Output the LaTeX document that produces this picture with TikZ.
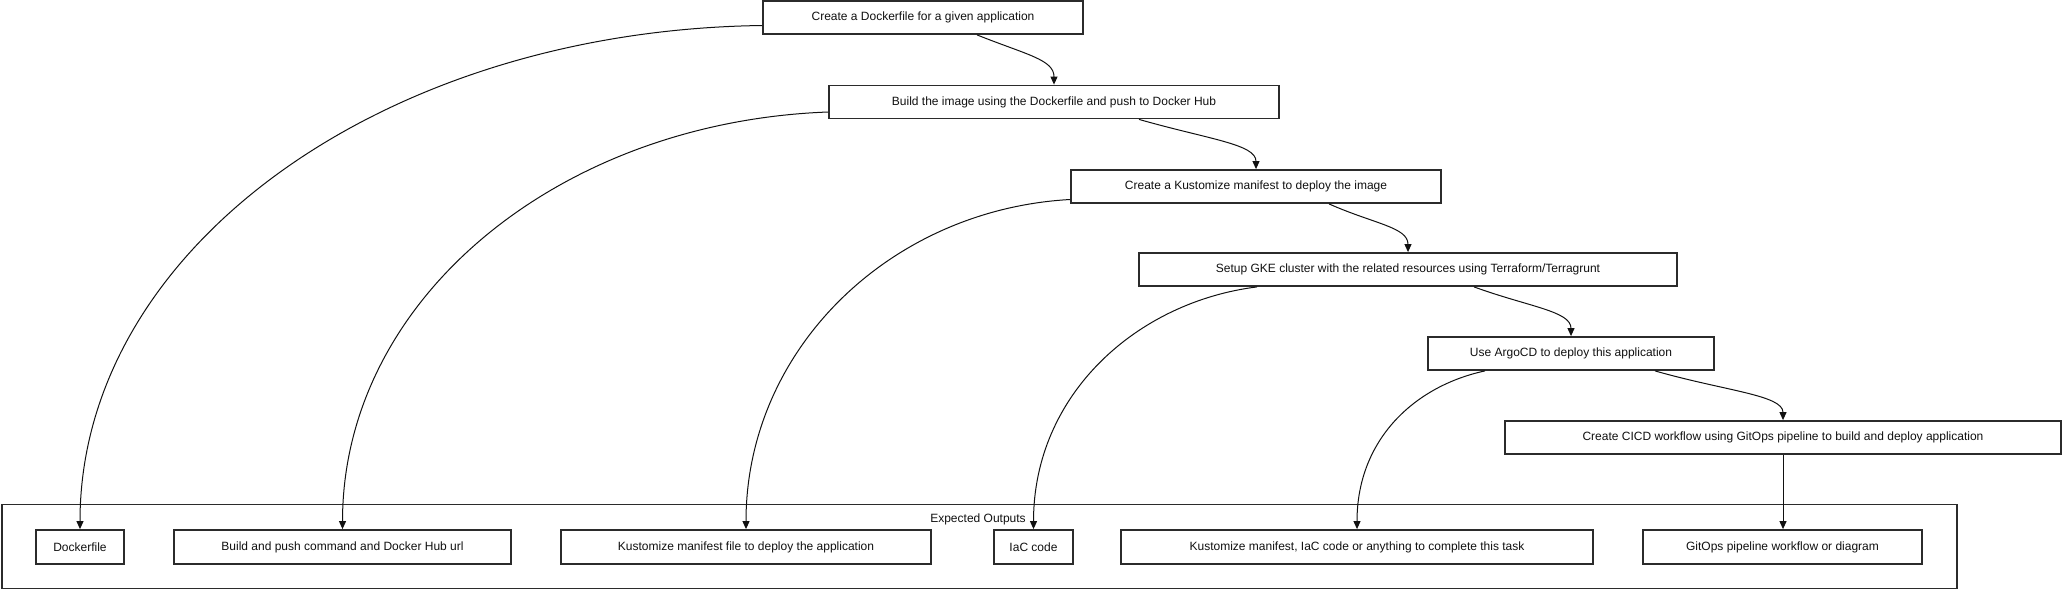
\documentclass[tikz,border=0pt]{standalone}
\usepackage{fontspec}
\setmainfont{Liberation Sans}
\usepackage{xcolor}
\usepackage{tikz}
\usetikzlibrary{arrows.meta,positioning,calc}
\definecolor{Ink}{HTML}{2B2B2B}
\definecolor{Wire}{HTML}{111111}
\tikzset{
  task/.style={
    draw=Ink, line width=1.8pt, fill=white,
    minimum height=33pt, inner sep=0pt, text=Wire,
    font=\fontsize{12}{14}\selectfont
  },
  output/.style={task,minimum height=34pt},
  group/.style={draw=Ink,line width=1.8pt,inner sep=0pt},
  arr/.style={-{Triangle[length=8pt,width=7pt]},line width=1pt,draw=Wire},
  caption/.style={font=\fontsize{12}{14}\selectfont,text=Wire}
}
\begin{document}
\begin{tikzpicture}[x=1pt,y=-1pt]
  \useasboundingbox (0,0) rectangle (2064,590);
  \node[group,minimum width=1955pt,minimum height=84pt] (outputs) at (979.5,546.5) {};
  \node[caption] (outLabel) at (978,519) {Expected Outputs};
  \node[task,minimum width=320pt] (dockerfile) at (923,17.5) {Create a Dockerfile for a given application};
  \node[task,minimum width=450pt] (build) at (1054,102) {Build the image using the Dockerfile and push to Docker Hub};
  \node[task,minimum width=370pt] (kustomize) at (1256,186.5) {Create a Kustomize manifest to deploy the image};
  \node[task,minimum width=538pt] (gke) at (1408,269.5) {Setup GKE cluster with the related resources using Terraform/Terragrunt};
  \node[task,minimum width=286pt] (argo) at (1571,353.5) {Use ArgoCD to deploy this application};
  \node[task,minimum width=556pt] (cicd) at (1783,437.5) {Create CICD workflow using GitOps pipeline to build and deploy application};
  \node[output,minimum width=88pt] (outDocker) at (80,547) {Dockerfile};
  \node[output,minimum width=337pt] (outBuild) at (342.5,547) {Build and push command and Docker Hub url};
  \node[output,minimum width=370pt] (outKust) at (746,547) {Kustomize manifest file to deploy the application};
  \node[output,minimum width=79pt] (outIac) at (1033.5,547) {IaC code};
  \node[output,minimum width=472pt] (outArgo) at (1357,547) {Kustomize manifest, IaC code or anything to complete this task};
  \node[output,minimum width=279pt] (outCicd) at (1782.5,547) {GitOps pipeline workflow or diagram};
  \draw[arr] ([xshift=54pt]dockerfile.south) .. controls +(50,20) and +(0,-25) .. (build.north);
  \draw[arr] ([xshift=85pt]build.south) .. controls +(70,20) and +(0,-25) .. (kustomize.north);
  \draw[arr] ([xshift=73pt]kustomize.south) .. controls +(45,20) and +(0,-25) .. (gke.north);
  \draw[arr] ([xshift=66pt]gke.south) .. controls +(55,20) and +(0,-25) .. (argo.north);
  \draw[arr] ([xshift=84pt]argo.south) .. controls +(70,20) and +(0,-25) .. (cicd.north);
  \draw[arr] ([yshift=-8pt]dockerfile.west) .. controls +(-380,5) and +(0,-280) .. (outDocker.north);
  \draw[arr] ([yshift=-10pt]build.west) .. controls +(-270,10) and +(0,-230) .. (outBuild.north);
  \draw[arr] ([yshift=-13pt]kustomize.west) .. controls +(-180,10) and +(0,-180) .. (outKust.north);
  \draw[arr] ([xshift=-151pt]gke.south) .. controls +(-120,15) and +(0,-135) .. (outIac.north);
  \draw[arr] ([xshift=-86pt]argo.south) .. controls +(-70,15) and +(0,-90) .. (outArgo.north);
  \draw[arr] (cicd.south) -- (cicd.south |- outCicd.north);
\end{tikzpicture}
\end{document}
